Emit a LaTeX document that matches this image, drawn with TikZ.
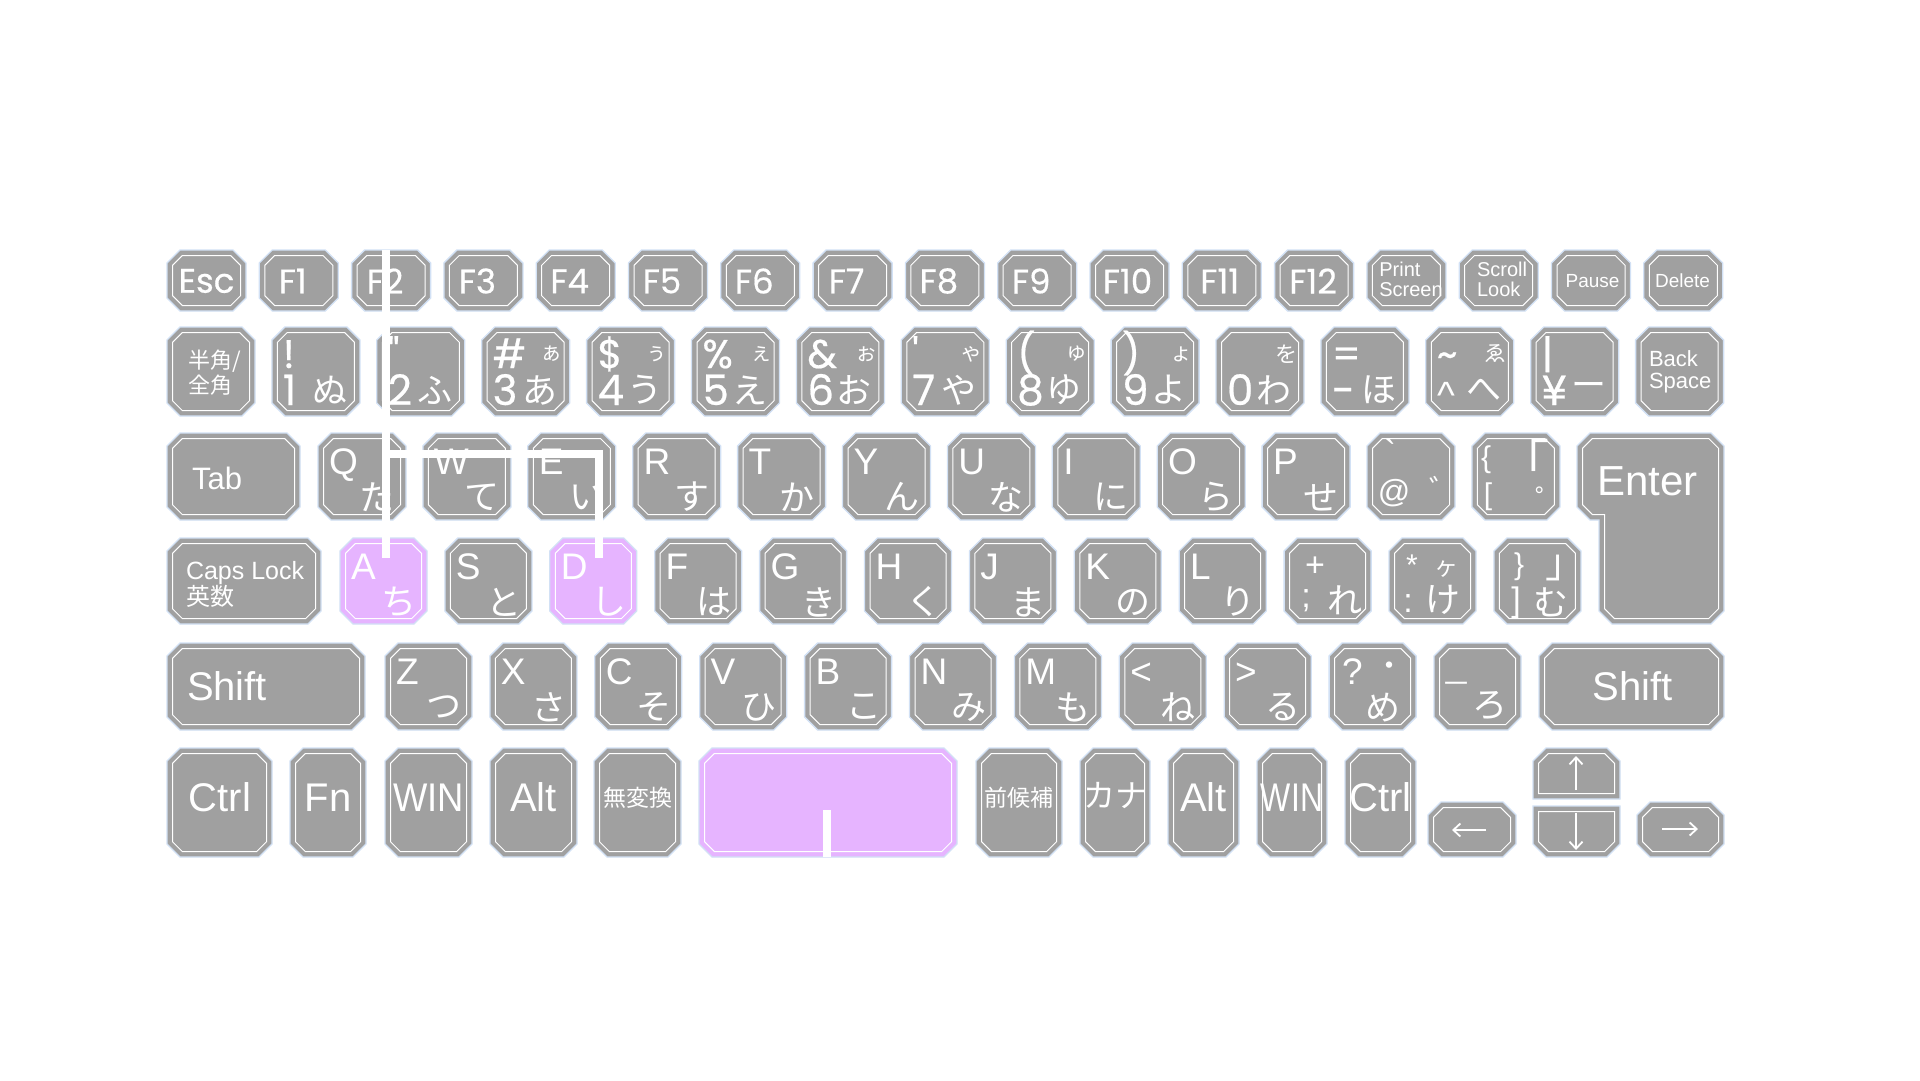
\documentclass[tikz,border=0pt]{standalone}
\usepackage{fontspec}
\usepackage{graphicx}
\setmainfont{Liberation Sans}
\newfontfamily\geo{Poppins}[FakeBold=0.5]
\newfontfamily\jp{Noto Sans CJK JP}
\usetikzlibrary{arrows.meta}

\definecolor{keygray}{HTML}{A0A0A0}
\definecolor{keyedge}{HTML}{D2E1F5}
\definecolor{keyhi}{HTML}{E6B4FF}

\newcommand\fsz[1]{\fontsize{#1}{#1}\selectfont}
\newcommand\fszl[2]{\fontsize{#1}{#2}\selectfont}

% one key cap: [fill] left, top, right, bottom (in px)
\newcommand\keyoct[5][keygray]{%
  \filldraw[fill=#1,draw=keyedge,line width=1.3]
    (#2+13,#3) -- (#4-13,#3) -- (#4,#3+13) -- (#4,#5-13) -- (#4-13,#5)
    -- (#2+13,#5) -- (#2,#5-13) -- (#2,#3+13) -- cycle;
  \draw[keyin]
    (#2+15.3,#3+5.5) -- (#4-15.3,#3+5.5) -- (#4-5.5,#3+15.3) -- (#4-5.5,#5-15.3)
    -- (#4-15.3,#5-5.5) -- (#2+15.3,#5-5.5) -- (#2+5.5,#5-15.3) -- (#2+5.5,#3+15.3) -- cycle;}

\tikzset{
  keyin/.style={draw=white,line width=1},
  lbl/.style={text=white,inner sep=0pt,outer sep=0pt},
  fkey/.style={lbl,font=\geo\fsz{34}},
  small2/.style={lbl,font=\fszl{20}{20},align=left},
  sym/.style={lbl,anchor=base west,font=\geo\fsz{40}},
  dig/.style={lbl,anchor=base west,font=\geo\fsz{42}},
  ltr/.style={lbl,anchor=base west,font=\fsz{37}},
  kana/.style={lbl,font=\jp\fsz{35}},
  skana/.style={lbl,font=\jp\fsz{22}},
  word/.style={lbl,anchor=base,font=\fsz{40}},
  wire/.style={white,line width=7.5},
  arw/.style={white,line width=1.8,-{Straight Barb[length=7pt,width=13pt]}}
}

\begin{document}
\begin{tikzpicture}[x=1pt,y=-1pt]
\fill[white] (0,0) rectangle (1920,1080);
\useasboundingbox (0,0) rectangle (1920,1080);

% function row
\foreach \lab/\dx [count=\i from 0] in {Esc/0,F1/-6,F2/-6,F3/-6,F4/-6,F5/-6,F6/-6,F7/-6,F8/-6,F9/-6,F10/-2,F11/-2,F12/-1} {
  \pgfmathsetmacro\xl{167+92.3*\i}
  \keyoct{\xl}{250}{\xl+79}{311}
  \node[fkey] (f\i) at (\xl+39.5+\dx,281) {\lab};
}
\foreach \i in {13,...,16} {
  \pgfmathsetmacro\xl{167+92.3*\i}
  \keyoct{\xl}{250}{\xl+79}{311}
}
\node[small2] (prt) at (1411,279) {Print\\Screen};
\node[small2] (scr) at (1502,279) {Scroll\\Look};
\node[lbl,font=\fsz{19}] (pau) at (1592.5,281) {Pause};
\node[lbl,font=\fsz{19}] (del) at (1682.5,281) {Delete};

% number row
\keyoct{167}{327}{255}{416}
\node[lbl,font=\jp\fszl{22}{25},align=left] (hz) at (215,373) {半角/\\全角};
\foreach \sym/\sml/\dig/\kan [count=\i] in {!//1/ぬ, "//2/ふ, \#/ぁ/3/あ,
    \$/ぅ/4/う, \%/ぇ/5/え, \&/ぉ/6/お, \textquotesingle/ゃ/7/や, {(}/ゅ/8/ゆ,
    {)}/ょ/9/よ, /を/0/わ, =//-/ほ, \textasciitilde/ゑ/{}/へ, |//¥/ー} {
  \pgfmathsetmacro\xl{167+104.9*\i}
  \keyoct{\xl}{327}{\xl+88}{416}
  \node[sym] (s\i) at (\xl+11,368) {\sym};
  \node[skana] (m\i) at (\xl+70,354) {\sml};
  \node[dig] (d\i) at (\xl+11,405) {\dig};
  \node[kana] (k\i) at (\xl+58,390) {\kan};
}
\node[lbl,anchor=base west,font=\fsz{38}] (crt) at (1437,408) {\textasciicircum};
\keyoct{1635.6}{327}{1723.6}{416}
\node[lbl,font=\fszl{22}{22},align=left,anchor=north west] (bs) at (1649,351) {Back\\Space};

% top letter row
\keyoct{167}{433}{300}{520}
\node[lbl,anchor=base west,font=\fsz{31}] (tab) at (192,489) {Tab};
\foreach \ltr/\kan [count=\i from 0] in {Q/た,W/て,E/い,R/す,T/か,Y/ん,U/な,I/に,O/ら,P/せ} {
  \pgfmathsetmacro\xl{318+104.9*\i}
  \keyoct{\xl}{433}{\xl+88}{520}
  \node[ltr] (q\i) at (\xl+11,474) {\ltr};
  \node[kana] (qk\i) at (\xl+59,497) {\kan};
}
\keyoct{1367}{433}{1455}{520}
\node[lbl,font=\fsz{36}] (gr) at (1390,452) {\textasciigrave};
\node[lbl,font=\fsz{32}] (atm) at (1394,493) {@};
\node[lbl,font=\jp\fsz{30}] (dak) at (1444,489) {゛};
\keyoct{1471.9}{433}{1559.9}{520}
\node[lbl,font=\fsz{30}] (cbl) at (1486,460) {\{};
\node[lbl,font=\fsz{30}] (sbl) at (1488,497) {[};
\node[lbl,font=\jp\fsz{50}] (kgl) at (1524,460) {「};
\node[lbl,font=\jp\fsz{30}] (hdk) at (1550,499) {゜};
% enter
\filldraw[fill=keygray,draw=keyedge,line width=1.3]
  (1590,433) -- (1711,433) -- (1724,446) -- (1724,611) -- (1711,624) -- (1612,624)
  -- (1599,611) -- (1599,520) -- (1590,520) -- (1577,507) -- (1577,446) -- cycle;
\draw[keyin]
  (1592.3,438.5) -- (1708.7,438.5) -- (1718.5,448.3) -- (1718.5,608.7) -- (1708.7,618.5)
  -- (1614.3,618.5) -- (1604.5,608.7) -- (1604.5,514.5) -- (1592.3,514.5) -- (1582.5,504.7)
  -- (1582.5,448.3) -- cycle;
\node[lbl,anchor=base west,font=\fsz{42}] (ent) at (1597,495) {Enter};

% home row
\keyoct{167}{538}{321}{624}
\node[lbl,font=\fszl{25}{24},align=left,anchor=north west] (caps) at (186,561) {Caps Lock\\{\jp\fsz{24}英数}};
\foreach \ltr/\kan/\col [count=\i from 0] in {A/ち/keyhi,S/と/keygray,D/し/keyhi,F/は/keygray,
    G/き/keygray,H/く/keygray,J/ま/keygray,K/の/keygray,L/り/keygray} {
  \pgfmathsetmacro\xl{340+104.9*\i}
  \keyoct[\col]{\xl}{538}{\xl+87}{624}
  \node[ltr] (a\i) at (\xl+11,579) {\ltr};
  \node[kana] (ak\i) at (\xl+59,602) {\kan};
}
\keyoct{1284.1}{538}{1371.1}{624}
\node[lbl,font=\fsz{34}] (pls) at (1315,567) {+};
\node[lbl,font=\fsz{34}] (smc) at (1306,601) {;};
\node[kana] (re) at (1345,600) {れ};
\keyoct{1389}{538}{1476}{624}
\node[lbl,font=\fsz{30}] (ast) at (1412,565) {*};
\node[lbl,font=\jp\fsz{24}] (ke) at (1446,569) {ヶ};
\node[lbl,font=\fsz{34}] (cln) at (1408,604) {:};
\node[kana] (ke2) at (1443,600) {け};
\keyoct{1493.9}{538}{1580.9}{624}
\node[lbl,font=\fsz{30}] (cbr) at (1519,567) {\}};
\node[lbl,font=\jp\fsz{40}] (kgr) at (1565,568) {」};
\node[lbl,font=\fsz{34}] (sbr) at (1516,603) {]};
\node[kana] (mu) at (1551,602) {む};

% bottom letter row
\keyoct{167}{643}{365}{730}
\node[word,anchor=base west] (lsh) at (187,700) {Shift};
\foreach \ltr/\kan [count=\i from 0] in {Z/つ,X/さ,C/そ,V/ひ,B/こ,N/み,M/も,</ね,>/る} {
  \pgfmathsetmacro\xl{385+104.9*\i}
  \keyoct{\xl}{643}{\xl+87}{730}
  \node[ltr] (z\i) at (\xl+11,684) {\ltr};
  \node[kana] (zk\i) at (\xl+59,707) {\kan};
}
\keyoct{1329.1}{643}{1416.1}{730}
\node[ltr] (qst) at (1342,684) {?};
\node[lbl,font=\jp\fsz{30}] (dot) at (1389,669) {・};
\node[kana] (me) at (1383,708) {め};
\keyoct{1434}{643}{1521}{730}
\node[lbl,font=\jp\fsz{30}] (usc) at (1456,688) {－};
\node[kana] (ro) at (1490,706) {ろ};
\keyoct{1539}{643}{1724}{730}
\node[word] (rsh) at (1633,700) {Shift};

% space row
\keyoct{167}{748}{272}{857}
\node[word] (lctrl) at (220,811) {Ctrl};
\keyoct{290}{748}{366}{857}
\node[word] (fn) at (328,811) {Fn};
\keyoct{385}{748}{472}{857}
\node[word] (lwin) at (428.5,811) {\scalebox{0.91}[1]{WIN}};
\keyoct{490}{748}{577}{857}
\node[word] (lalt) at (533.5,811) {Alt};
\keyoct{594}{748}{681}{857}
\node[lbl,font=\jp\fsz{23}] (muh) at (637.5,798) {無変換};
\keyoct[keyhi]{699}{748}{957}{857}
\keyoct{976}{748}{1062}{857}
\node[lbl,font=\jp\fsz{23}] (zen) at (1019,798) {前候補};
\keyoct{1080}{748}{1150}{857}
\node[lbl,font=\jp\fsz{32}] (kn) at (1115,796) {カナ};
\keyoct{1168}{748}{1239}{857}
\node[word] (ralt) at (1203.5,811) {Alt};
\keyoct{1257}{748}{1327}{857}
\node[word] (rwin) at (1292,811) {\scalebox{0.8}[1]{WIN}};
\keyoct{1345}{748}{1416}{857}
\node[word] (rctrl) at (1380.5,811) {Ctrl};

% arrow keys
\keyoct{1428}{802}{1516}{857}
\draw[arw] (1486,830) -- (1452,830);
\filldraw[fill=keygray,draw=keyedge,line width=1.3]
  (1546,748) -- (1607,748) -- (1620,761) -- (1620,799) -- (1533,799) -- (1533,761) -- cycle;
\draw[keyin] (1548.3,753.5) -- (1604.7,753.5) -- (1614.5,763.3) -- (1614.5,793.5)
  -- (1538.5,793.5) -- (1538.5,763.3) -- cycle;
\draw[arw] (1576,790) -- (1576,756);
\filldraw[fill=keygray,draw=keyedge,line width=1.3]
  (1533,806) -- (1620,806) -- (1620,844) -- (1607,857) -- (1546,857) -- (1533,844) -- cycle;
\draw[keyin] (1538.5,811.5) -- (1614.5,811.5) -- (1614.5,841.7) -- (1604.7,851.5)
  -- (1548.3,851.5) -- (1538.5,841.7) -- cycle;
\draw[arw] (1576,813) -- (1576,850);
\keyoct{1637}{802}{1724}{857}
\draw[arw] (1662,829) -- (1698,829);

% white guide lines
\coordinate (w-top) at (386,250);
\coordinate (w-a) at (386,558);
\coordinate (w-mid) at (386,454);
\coordinate (w-d) at (599,558);
\coordinate (w-sp) at (827,810);
\coordinate (w-spb) at (827,857);
\draw[wire] (w-top) -- (w-a);
\draw[wire] (w-mid) -| (w-d);
\draw[wire] (w-sp) -- (w-spb);
\end{tikzpicture}
\end{document}
